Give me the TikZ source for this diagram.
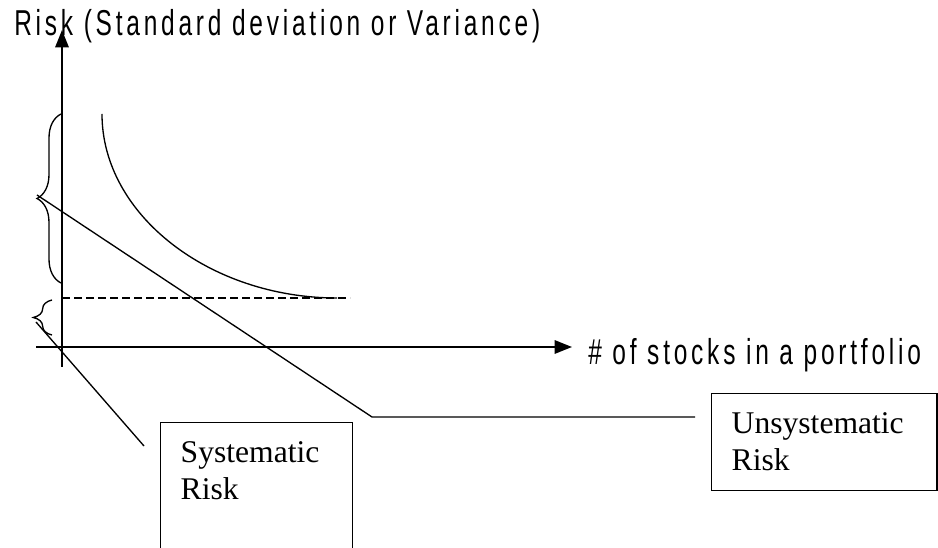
\documentclass[tikz,border=0pt]{standalone}
\usepackage{fontspec}
\setmainfont{Liberation Serif}
\newfontfamily\axisfont[FakeStretch=0.68,LetterSpace=10.5]{Liberation Sans}
\usetikzlibrary{
    decorations.pathreplacing,
    arrows.meta,
    positioning
}

\begin{document}
\begin{tikzpicture}[x=0.75pt, y=-0.75pt,
        axis/.style={line width=1.5pt, -{Triangle[length=13pt,width=10pt]}},
        axislabel/.style={anchor=base west, inner sep=0pt, font=\axisfont\fontsize{27}{30}\selectfont},
        riskbox/.style={draw, line width=1.1pt, anchor=north west, align=left,
            inner xsep=15pt, inner ysep=14pt, text height=16pt,
            font=\fontsize{23.7}{27.75}\selectfont},
        bracket/.style={line width=1pt, decorate, decoration={brace, amplitude=#1}},
        pointer/.style={line width=1pt}
    ]
                            \useasboundingbox (0,0) rectangle (938,548);
                            % axes
                            \coordinate (o) at (62,347);
                            \draw[axis] (62,367) -- (62,30);
                            \draw[axis] (36,347) -- (572,347);
                            \node[axislabel] (ylab) at (14,36) {Risk (Standard deviation or Variance)};
                            \node[axislabel] (xlab) at (588,365) {\# of stocks in a portfolio};

                            % total risk curve and its floor
                            \draw[line width=1pt] (102,114) .. controls (102,215) and (210,298) .. (337,298);
                            \draw[line width=1pt, dash pattern=on 6pt off 3pt] (62,298) -- (350,298);

                            % braces
                            \draw[bracket=18pt] (61,283) -- (61,114);
                            \draw[bracket=14pt] (52,335) -- (52,300);
                            \coordinate (bigtip) at (37,195);
                            \coordinate (smalltip) at (36,322);

                            % boxes
                            \node[riskbox, text width=114pt, text depth=150pt] (sys) at (160,422) {Systematic\\Risk};
                            \node[riskbox, text width=139pt, text depth=28.75pt] (unsys) at (711,393) {Unsystematic\\Risk};

                            % pointers
                            \coordinate (sysend) at (144,446);
                            \coordinate (bend) at (372,417);
                            \coordinate (unsysend) at (695,417);
                            \draw[pointer] (smalltip) -- (sysend);
                            \draw[pointer] (bigtip) -- (bend) -- (unsysend);
                        \end{tikzpicture}
\end{document}
